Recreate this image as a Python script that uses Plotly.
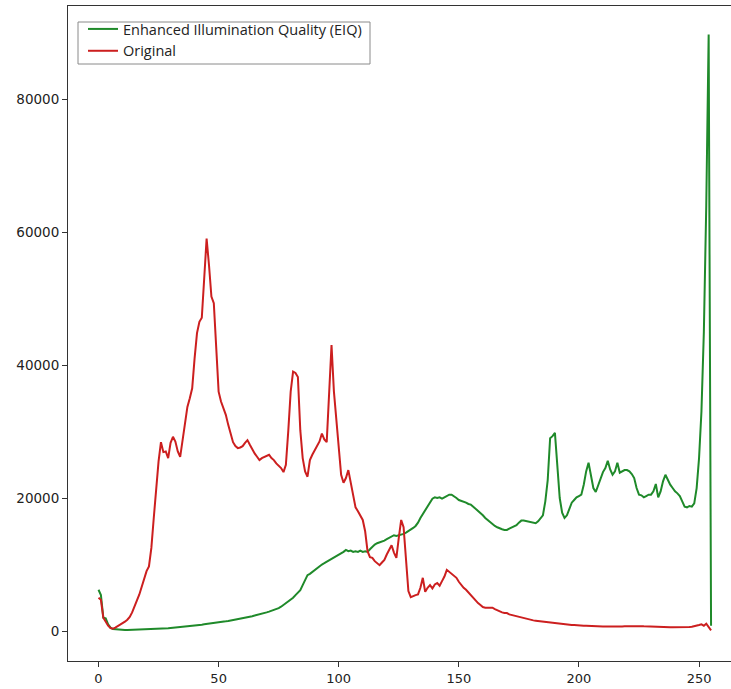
import plotly.graph_objects as go

intensity = list(range(256))

original = [
    5000, 4700, 2000, 1300, 800, 450, 350, 500, 700, 900,
    1100, 1400, 1700, 2100, 2800, 3600, 4600, 5500, 6600, 8000,
    9000, 9700, 12500, 17000, 21500, 25500, 28400, 26900, 27000, 26000,
    28300, 29200, 28500, 27000, 26200, 28500, 31500, 33700, 35000, 36500,
    41000, 44800, 46500, 47100, 53000, 59000, 55000, 50300, 49300, 42000,
    36000, 34500, 33500, 32500, 31000, 29500, 28400, 27800, 27500, 27600,
    27800, 28300, 28700, 28000, 27300, 26700, 26200, 25700, 26000, 26200,
    26400, 26500, 26000, 25700, 25200, 24800, 24500, 23900, 25000, 30100,
    36000, 39000, 38800, 38200, 30200, 26000, 24000, 23200, 25700, 26500,
    27200, 27700, 28500, 29700, 28800, 28400, 37000, 43000, 36000, 32000,
    27000, 23500, 22300, 23000, 24200, 22500, 20500, 18600, 18000, 17300,
    16700, 15000, 12000, 11100, 11000, 10500, 10200, 9900, 10300, 10700,
    11500, 12300, 12900, 11800, 11000, 14000, 16700, 15600, 11000, 6000,
    5100, 5300, 5400, 5500, 6500, 8000, 5900, 6500, 6900, 6400,
    7000, 7200, 6800, 7500, 8200, 9200, 8900, 8700, 8300, 8000,
    7400, 6900, 6500, 6200, 5800, 5400, 4900, 4500, 4200, 3900,
    3600, 3500, 3500, 3500, 3500, 3300, 3100, 2900, 2800, 2700,
    2700, 2500, 2400, 2300, 2200, 2100, 2100, 2000, 1900, 1800,
    1700, 1600, 1550, 1500, 1500, 1400, 1350, 1300, 1250, 1200,
    1150, 1100, 1100, 1050, 1050, 1000, 950, 900, 900, 850,
    850, 800, 800, 780, 750, 750, 720, 700, 700, 680,
    680, 660, 650, 650, 650, 640, 650, 660, 680, 700,
    720, 700, 700, 680, 700, 720, 730, 700, 680, 650,
    640, 620, 600, 600, 590, 580, 580, 570, 560, 560,
    550, 550, 560, 560, 570, 580, 600, 650, 700, 800,
    900, 1000, 800, 1100, 500, 100,
]

enhanced = [
    6200, 5400, 2000, 1900, 1000, 500, 300, 250, 200, 180,
    160, 150, 150, 160, 170, 180, 190, 200, 210, 220,
    230, 250, 260, 280, 300, 320, 350, 380, 400, 430,
    460, 490, 520, 550, 580, 620, 660, 700, 750, 790,
    830, 870, 910, 950, 1000, 1040, 1080, 1130, 1180, 1230,
    1290, 1340, 1400, 1460, 1520, 1580, 1640, 1700, 1770, 1840,
    1920, 2000, 2080, 2150, 2230, 2320, 2400, 2500, 2600, 2700,
    2800, 2920, 3040, 3150, 3300, 3450, 3650, 3900, 4150, 4400,
    4650, 5000, 5400, 5800, 6150, 6900, 7700, 8400, 8600, 8900,
    9200, 9500, 9700, 10000, 10200, 10400, 10700, 10900, 11100, 11300,
    11500, 11700, 11900, 12200, 12000, 12100, 11900, 12000, 11900, 12100,
    11900, 12000, 11900, 12300, 12700, 13000, 13200, 13300, 13400, 13600,
    13800, 14000, 14200, 14400, 14300, 14400, 14400, 14600, 14800, 15000,
    15200, 15500, 15800, 16300, 17000, 17600, 18200, 18800, 19400, 19900,
    20100, 20000, 20100, 19900, 20100, 20300, 20500, 20500, 20300, 20000,
    19700, 19600, 19400, 19300, 19100, 19000, 18700, 18400, 18000, 17700,
    17400, 17000, 16700, 16300, 16000, 15800, 15600, 15400, 15300, 15200,
    15200, 15400, 15600, 15800, 15900, 16300, 16600, 16600, 16500, 16400,
    16300, 16200, 16200, 16500, 17000, 17400, 19500, 22700, 29000, 29300,
    29800, 25000, 20000, 17800, 17000, 17400, 18500, 19300, 19700, 20100,
    20300, 20500, 22000, 24000, 25300, 23500, 21500, 20900, 21800, 23000,
    23900, 24500, 25600, 24300, 23500, 24000, 25300, 23800, 24000, 24200,
    24200, 24000, 23600, 23000, 21500, 20500, 20400, 20100, 20300, 20500,
    20500, 21000, 22100, 20100, 21000, 22500, 23500, 22700, 22000, 21500,
    21000, 20700, 20300, 19500, 18700, 18600, 18800, 18700, 19200, 21500,
    26000, 33000, 45000, 64000, 89700, 800,
]

x_ticks = [0, 50, 100, 150, 200, 250]
x_tick_labels = ["0", "50", "100", "150", "200", "250"]
y_ticks = [0, 20000, 40000, 60000, 80000]
y_tick_labels = ["0", "20000", "40000", "60000", "80000"]

fig = go.Figure()
fig.add_trace(go.Scatter(
    x=intensity, y=enhanced, mode="lines",
    name="Enhanced Illumination Quality (EIQ)",
    line=dict(color="#1f8a2a", width=2),
))
fig.add_trace(go.Scatter(
    x=intensity, y=original, mode="lines",
    name="Original",
    line=dict(color="#cc1f1f", width=2),
))

# plot area in pixels: x 68..731, y 6..661
PW, PH = 663, 655

def px_x(p):
    return (p - 68) / PW

def px_y(p):
    return 1 - (p - 6) / PH

fig.add_shape(
    type="rect", xref="paper", yref="paper",
    x0=px_x(78), x1=px_x(370), y0=px_y(64), y1=px_y(22),
    line=dict(color="#8a8a8a", width=1), fillcolor="white", layer="below",
)

fig.update_layout(
    width=731, height=689,
    margin=dict(l=68, r=0, t=6, b=28, autoexpand=False),
    paper_bgcolor="white", plot_bgcolor="white",
    showlegend=True,
    legend=dict(
        x=px_x(83), y=px_y(13),
        xanchor="left", yanchor="top",
        bgcolor="rgba(0,0,0,0)", borderwidth=0,
        font=dict(family="Open Sans", size=14.5, color="#222"),
        tracegroupgap=0, itemwidth=30,
    ),
    font=dict(family="DejaVu Sans", size=13, color="#222"),
)
fig.update_xaxes(
    range=[-12.7, 263.3],
    tickmode="array", tickvals=x_ticks, ticktext=x_tick_labels,
    ticks="outside", ticklen=5, tickwidth=1, tickcolor="#333",
    showline=True, linecolor="#333", linewidth=1, mirror=True,
    showgrid=False, zeroline=False,
    tickfont=dict(family="DejaVu Sans", size=13, color="#222"),
)
fig.update_yaxes(
    range=[-4510, 93985],
    tickmode="array", tickvals=y_ticks, ticktext=y_tick_labels,
    ticks="outside", ticklen=5, tickwidth=1, tickcolor="#333",
    showline=True, linecolor="#333", linewidth=1, mirror=False,
    showgrid=False, zeroline=False,
    tickfont=dict(family="DejaVu Sans", size=13.5, color="#222"),
)

fig.write_html(
    "out.html",
    config={"displayModeBar": False},
    post_script="document.body.style.margin='0';",
)
